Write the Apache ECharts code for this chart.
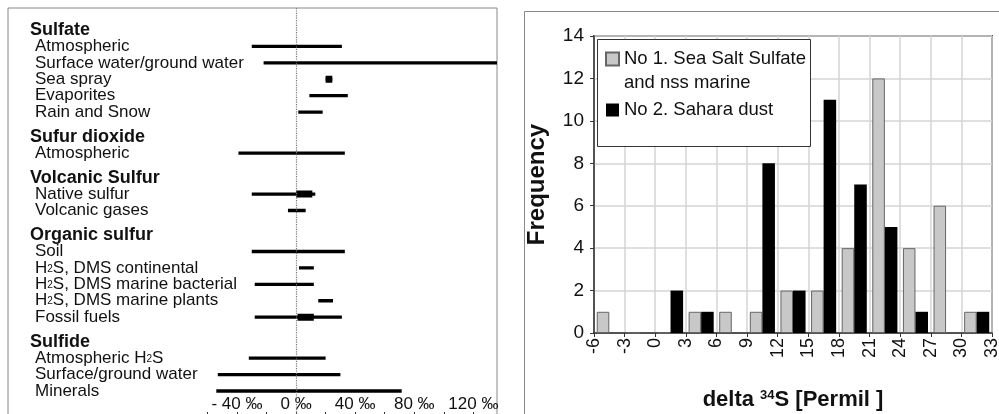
<!DOCTYPE html>
<html>
<head>
<meta charset="utf-8">
<script src="https://cdn.jsdelivr.net/npm/echarts@6/dist/echarts.min.js"></script>
<style>
  html, body { margin: 0; padding: 0; background: #fff; }
  #chart { width: 999px; height: 414px; }
</style>
</head>
<body>
<div id="chart"></div>
<script>
// left panel: delta34S ranges of sulfur sources (permil)
const rowLabels = [
  'Sulfate', 'Atmospheric', 'Surface water/ground water', 'Sea spray', 'Evaporites', 'Rain and Snow',
  'Sufur dioxide', 'Atmospheric',
  'Volcanic Sulfur', 'Native sulfur', 'Volcanic gases',
  'Organic sulfur', 'Soil', 'H2S, DMS continental', 'H2S, DMS marine bacterial', 'H2S, DMS marine plants', 'Fossil fuels',
  'Sulfide', 'Atmospheric H2S', 'Surface/ground water', 'Minerals'
]
const headers = ['Sulfate', 'Sufur dioxide', 'Volcanic Sulfur', 'Organic sulfur', 'Sulfide']
const rangeLow = [
  null, -30, -22, 20, 9, 1.5,
  null, -39,
  null, -30, -5.5,
  null, -30, 2, -28, 15, -28,
  null, -32, -53, -54
]
const rangeHigh = [
  null, 31, 150, 24.5, 35, 18,
  null, 33,
  null, 13, 6.5,
  null, 33, 12, 12, 25, 31,
  null, 20, 30, 71.5
]
const coreLow = [
  null, null, null, 20, null, null,
  null, null,
  null, 0, null,
  null, null, null, null, null, 1,
  null, null, null, null
]
const coreHigh = [
  null, null, null, 24.5, null, null,
  null, null,
  null, 11, null,
  null, null, null, null, null, 12,
  null, null, null, null
]
const permilTicks = [-60, -40, -20, 0, 20, 40, 60, 80, 100, 120]
const permilLabels = [-40, 0, 40, 80, 120]

// right panel: histogram of delta34S
const binStarts = [-6, -3, 0, 3, 6, 9, 12, 15, 18, 21, 24, 27, 30]
const seaSalt = [1, 0, 0, 1, 1, 1, 2, 2, 4, 12, 4, 6, 1]
const sahara = [0, 0, 2, 1, 0, 8, 2, 11, 7, 5, 1, 0, 1]
const seaSaltName = 'No 1. Sea Salt Sulfate and nss marine'
const saharaName = 'No 2. Sahara dust'

const font = 'Liberation Sans, Arial, sans-serif'

// row slots: one per line, half a line extra before each group header
const rowPos = []
let slot = 0
rowLabels.forEach((r, i) => {
  if (i > 0 && headers.indexOf(r) >= 0) slot += 0.5
  rowPos.push(slot)
  slot += 1
})
const lastSlot = rowPos[rowPos.length - 1]

const chart = echarts.init(document.getElementById('chart'))

function rowLabel(pos) {
  const v = rowLabels[rowPos.indexOf(pos)]
  if (!v) return ''
  if (headers.indexOf(v) >= 0) return '{h|' + v + '}'
  if (v.indexOf('H2S') >= 0) {
    const parts = v.split('H2S')
    return '{i|' + parts[0] + 'H}{s|2}{t|S' + parts[1] + '}'
  }
  return '{i|' + v + '}'
}

function rangeItem(width) {
  return function (params, api) {
    const lo = api.value(0)
    const hi = api.value(1)
    if (isNaN(lo) || isNaN(hi)) return
    const a = api.coord([lo, api.value(2)])
    const b = api.coord([hi, api.value(2)])
    return {
      type: 'rect',
      shape: {x: a[0], y: a[1] - width / 2, width: b[0] - a[0], height: width},
      style: {fill: '#000'}
    }
  }
}

const option = {
  animation: false,
  textStyle: {fontFamily: font},
  grid: [
    {left: 8, width: 489, top: 8, height: 414, outerBoundsMode: 'none', show: true, borderColor: '#888', borderWidth: 1},
    {left: 8, width: 489, top: 21.8, bottom: 14.8, outerBoundsMode: 'none'},
    {left: 594, right: 7, top: 36, bottom: 81, outerBoundsMode: 'none', show: true, borderColor: '#555', borderWidth: 2}
  ],
  xAxis: [
    {
      type: 'value', gridIndex: 0, min: -195, max: 136,
      axisLine: {show: false},
      splitLine: {show: false},
      axisTick: {show: true, inside: true, length: 10, customValues: permilTicks, lineStyle: {color: '#333'}},
      axisLabel: {
        inside: true, margin: 9, fontSize: 17, color: '#111',
        customValues: permilLabels,
        formatter: v => (v < 0 ? '- ' + (-v) : v) + ' ‰'
      }
    },
    {type: 'value', gridIndex: 1, min: -195, max: 136, show: false},
    {type: 'category', gridIndex: 2, position: 'bottom', data: binStarts.map(String), show: false},
    {
      type: 'value', gridIndex: 2, position: 'bottom', min: -6, max: 33, interval: 3,
      axisLine: {show: true, lineStyle: {color: '#333', width: 1.5}},
      axisTick: {show: true, length: 4, lineStyle: {color: '#333'}},
      splitLine: {show: true, lineStyle: {color: '#d4d4d4', width: 1.5}},
      axisLabel: {rotate: 90, margin: 5, fontSize: 18, color: '#111'},
      name: '{b|delta }{sup|34}{b|S [Permil ]}',
      nameLocation: 'middle',
      nameGap: 56,
      nameTextStyle: {
        rich: {
          b: {fontSize: 22, fontWeight: 'bold', color: '#111', fontFamily: font},
          sup: {fontSize: 13, fontWeight: 'bold', color: '#111', verticalAlign: 'top', fontFamily: font}
        }
      }
    }
  ],
  yAxis: [
    {type: 'value', gridIndex: 0, show: false},
    {
      type: 'value', gridIndex: 1, min: -0.5, max: lastSlot + 0.5, inverse: true,
      axisLine: {show: false},
      axisTick: {show: false},
      splitLine: {show: false},
      axisLabel: {
        inside: true, margin: 22, hideOverlap: false,
        // blank end values take the min/max label slots so no real row gets dropped
        customValues: [-0.5].concat(rowPos, [lastSlot + 0.5]),
        formatter: rowLabel,
        rich: {
          h: {fontSize: 18, lineHeight: 12, fontWeight: 'bold', color: '#111', fontFamily: font},
          i: {fontSize: 17, lineHeight: 12, color: '#111', padding: [0, 0, 0, 5], fontFamily: font},
          t: {fontSize: 17, lineHeight: 12, color: '#111', fontFamily: font},
          s: {fontSize: 10, lineHeight: 12, color: '#111', verticalAlign: 'bottom', fontFamily: font}
        }
      }
    },
    {
      type: 'value', gridIndex: 2, min: 0, max: 14, interval: 2,
      axisLine: {show: true, onZero: false, lineStyle: {color: '#333', width: 1.5}},
      axisTick: {show: true, length: 4, lineStyle: {color: '#333'}},
      splitLine: {show: true, lineStyle: {color: '#d4d4d4', width: 1.5}},
      axisLabel: {fontSize: 19, color: '#111', margin: 10},
      name: 'Frequency',
      nameLocation: 'middle',
      nameGap: 45,
      nameTextStyle: {fontSize: 24, fontWeight: 'bold', color: '#111'}
    }
  ],
  legend: {
    orient: 'vertical',
    left: 605,
    top: 23,
    padding: 0,
    itemGap: 3,
    itemWidth: 13,
    itemHeight: 13,
    icon: 'rect',
    z: 20,
    textStyle: {fontSize: 18.5, lineHeight: 24, color: '#111'},
    // blank first line keeps the icon level with the first text line
    formatter: name => name === seaSaltName ? '\nNo 1. Sea Salt Sulfate\nand nss marine' : name,
    data: [seaSaltName, saharaName]
  },
  graphic: [
    {type: 'rect', left: 522, top: 9, z: 1, shape: {width: 520, height: 450}, style: {fill: 'none', stroke: '#888', lineWidth: 1}},
    {type: 'rect', left: 597, top: 39, z: 10, shape: {width: 213, height: 107}, style: {fill: '#fff', stroke: '#333', lineWidth: 1}}
  ],
  series: [
    {
      type: 'line', xAxisIndex: 0, yAxisIndex: 0, data: [], silent: true,
      markLine: {
        symbol: 'none', silent: true, label: {show: false},
        lineStyle: {color: '#777', type: 'dotted', width: 1.2},
        data: [{xAxis: 0}]
      }
    },
    {
      type: 'custom', xAxisIndex: 1, yAxisIndex: 1, clip: true,
      renderItem: rangeItem(3.3),
      encode: {x: [0, 1], y: 2},
      data: rowLabels.map((r, i) => [rangeLow[i], rangeHigh[i], rowPos[i]])
    },
    {
      type: 'custom', xAxisIndex: 1, yAxisIndex: 1, clip: true,
      renderItem: rangeItem(7),
      encode: {x: [0, 1], y: 2},
      data: rowLabels.map((r, i) => [coreLow[i], coreHigh[i], rowPos[i]])
    },
    {
      name: seaSaltName, type: 'bar', xAxisIndex: 2, yAxisIndex: 2,
      data: seaSalt, barGap: '0%', barCategoryGap: '18%',
      itemStyle: {color: '#c8c8c8', borderColor: '#666', borderWidth: 1}
    },
    {
      name: saharaName, type: 'bar', xAxisIndex: 2, yAxisIndex: 2,
      data: sahara, barGap: '0%', barCategoryGap: '18%',
      itemStyle: {color: '#000'}
    }
  ]
}

chart.setOption(option)
</script>
</body>
</html>
